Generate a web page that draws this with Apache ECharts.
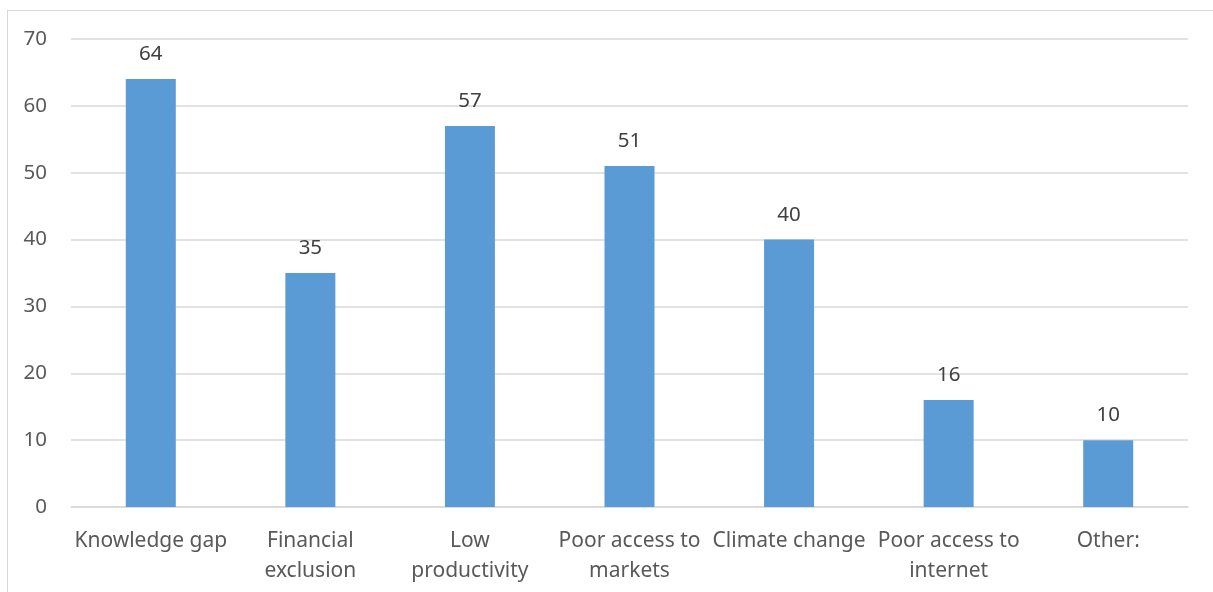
<!DOCTYPE html>
<html><head><meta charset="utf-8">
<script src="https://cdn.jsdelivr.net/npm/echarts@6/dist/echarts.min.js"></script>
<style>
html,body{margin:0;padding:0;background:#fff;overflow:hidden;}
#frame{position:absolute;left:7px;top:10px;width:1220px;height:600px;border:1.5px solid #d9d9d9;box-sizing:border-box;}
#c{position:absolute;left:0;top:0;width:1213px;height:592px;}
</style></head>
<body>
<div id="frame"></div>
<div id="c"></div>
<script>
const categories = ['Knowledge gap','Financial\nexclusion','Low\nproductivity','Poor access to\nmarkets','Climate change','Poor access to\ninternet','Other:'];
const values = [64,35,57,51,40,16,10];
const yTicks = {min:0,max:70,interval:10};

const chart = echarts.init(document.getElementById('c'));
chart.setOption({
  animation:false,
  grid:{left:71,right:25,top:39,bottom:85},
  xAxis:{type:'category',data:categories,
    axisLine:{lineStyle:{color:'#d9d9d9',width:1.5}},axisTick:{show:false},
    axisLabel:{color:'#595959',fontFamily:'Noto Sans',fontSize:21,margin:19,lineHeight:30,interval:0}},
  yAxis:{type:'value',min:yTicks.min,max:yTicks.max,interval:yTicks.interval,
    axisLine:{show:false},axisTick:{show:false},
    splitLine:{lineStyle:{color:'#d9d9d9',width:1.5}},
    axisLabel:{color:'#595959',fontFamily:'Noto Sans',fontSize:20.5,margin:24}},
  series:[{type:'bar',data:values,barWidth:50,itemStyle:{color:'#5b9bd5'},
    label:{show:true,position:'top',distance:14,color:'#404040',fontFamily:'Noto Sans',fontSize:20.5}}]
});
</script>
</body></html>
